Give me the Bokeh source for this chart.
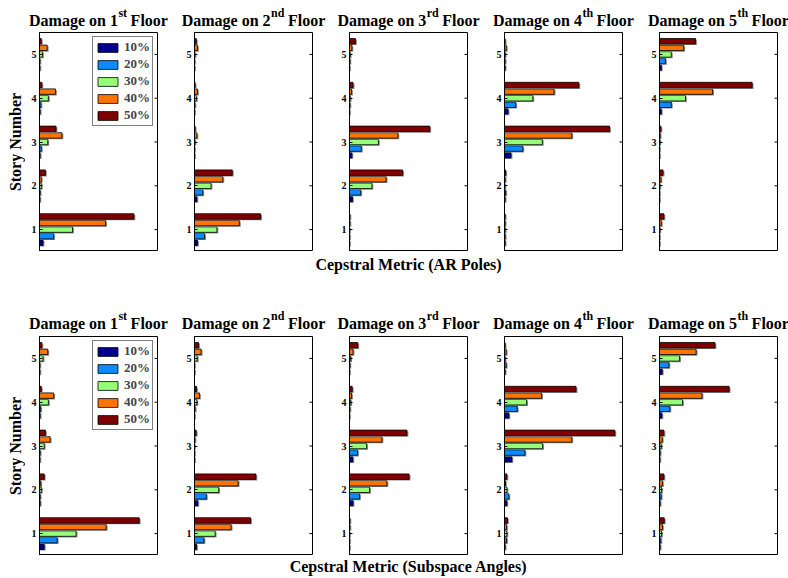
import numpy as np
from bokeh.plotting import figure
from bokeh.models import Range1d, Label, Legend, LegendItem, FixedTicker
from bokeh.layouts import row, column
from bokeh.embed import file_html
from bokeh.resources import INLINE

# ---------------- data ----------------
stories = [1, 2, 3, 4, 5]
levels = ["10%", "20%", "30%", "40%", "50%"]
colors = ["#00008C", "#0A8CFF", "#96FF78", "#FF7400", "#800000"]
floor_sup = ["st", "nd", "rd", "th", "th"]

# Cepstral Metric (AR Poles): per damage floor, one list per damage level (stories 1..5)
ar_floor1 = [[0.03, 0.003, 0.005, 0.005, 0.003],
             [0.12, 0.005, 0.015, 0.012, 0.003],
             [0.28, 0.015, 0.07, 0.075, 0.025],
             [0.56, 0.015, 0.19, 0.135, 0.065],
             [0.80, 0.05, 0.14, 0.02, 0.015]]
ar_floor2 = [[0.025, 0.02, 0.0, 0.0, 0.0],
             [0.085, 0.07, 0.0, 0.003, 0.0],
             [0.19, 0.14, 0.003, 0.015, 0.003],
             [0.38, 0.24, 0.02, 0.025, 0.025],
             [0.56, 0.32, 0.005, 0.005, 0.015]]
ar_floor3 = [[0.0, 0.025, 0.02, 0.0, 0.0],
             [0.0, 0.095, 0.10, 0.003, 0.003],
             [0.0, 0.19, 0.245, 0.005, 0.005],
             [0.003, 0.31, 0.41, 0.017, 0.02],
             [0.003, 0.45, 0.68, 0.03, 0.05]]
ar_floor4 = [[0.005, 0.005, 0.055, 0.03, 0.005],
             [0.005, 0.01, 0.155, 0.095, 0.005],
             [0.005, 0.003, 0.32, 0.24, 0.005],
             [0.005, 0.005, 0.57, 0.42, 0.015],
             [0.005, 0.01, 0.89, 0.63, 0.005]]
ar_floor5 = [[0.0, 0.0, 0.0, 0.015, 0.015],
             [0.0, 0.0, 0.0, 0.10, 0.05],
             [0.003, 0.003, 0.003, 0.22, 0.10],
             [0.015, 0.012, 0.005, 0.45, 0.205],
             [0.037, 0.03, 0.012, 0.785, 0.305]]

# Cepstral Metric (Subspace Angles)
sa_floor1 = [[0.04, 0.005, 0.003, 0.005, 0.003],
             [0.15, 0.005, 0.005, 0.01, 0.003],
             [0.31, 0.015, 0.04, 0.075, 0.03],
             [0.565, 0.01, 0.09, 0.12, 0.07],
             [0.845, 0.04, 0.05, 0.015, 0.02]]
sa_floor2 = [[0.017, 0.028, 0.0, 0.0, 0.0],
             [0.08, 0.10, 0.0, 0.005, 0.0],
             [0.175, 0.205, 0.0, 0.02, 0.023],
             [0.31, 0.37, 0.003, 0.042, 0.056],
             [0.475, 0.52, 0.014, 0.017, 0.034]]
sa_floor3 = [[0.0, 0.03, 0.028, 0.0, 0.0],
             [0.0, 0.085, 0.068, 0.003, 0.003],
             [0.0, 0.17, 0.145, 0.01, 0.01],
             [0.003, 0.317, 0.275, 0.017, 0.03],
             [0.003, 0.505, 0.487, 0.023, 0.07]]
sa_floor4 = [[0.005, 0.02, 0.062, 0.037, 0.005],
             [0.017, 0.037, 0.173, 0.108, 0.014],
             [0.02, 0.02, 0.323, 0.187, 0.005],
             [0.017, 0.008, 0.57, 0.314, 0.014],
             [0.025, 0.02, 0.935, 0.606, 0.005]]
sa_floor5 = [[0.005, 0.005, 0.003, 0.02, 0.023],
             [0.011, 0.014, 0.005, 0.088, 0.08],
             [0.017, 0.017, 0.014, 0.195, 0.17],
             [0.025, 0.025, 0.023, 0.36, 0.31],
             [0.04, 0.037, 0.037, 0.59, 0.47]]

ar_panels = [ar_floor1, ar_floor2, ar_floor3, ar_floor4, ar_floor5]
sa_panels = [sa_floor1, sa_floor2, sa_floor3, sa_floor4, sa_floor5]
row_labels = ["Cepstral Metric (AR Poles)", "Cepstral Metric (Subspace Angles)"]
y_label = "Story Number"

# ---------------- style / layout ----------------
FONT = "Liberation Serif"
TOTAL_W = 788
FW, FH = 118, 219
STRIP_W = 25          # left strip holding "Story Number"
BL, BR = 14, 23       # panel borders (left / right)
LAST_R = TOTAL_W - (STRIP_W + 4 * (BL + FW + BR) + BL + FW)
offsets = [-0.3, -0.15, 0.0, 0.15, 0.3]
BAR_H = 0.125
TICK_PX = 3

frame_centers = [STRIP_W + k * (BL + FW + BR) + BL + FW / 2.0 for k in range(5)]

# Times-Bold advance widths (per 1000 em) used to place the superscripts
TB = {'D': 722, 'a': 500, 'm': 833, 'g': 500, 'e': 444, ' ': 250, 'o': 500, 'n': 556,
      'F': 611, 'l': 278, 'r': 444, 's': 389, 't': 333, 'd': 556, 'h': 556}
for dch in "0123456789":
    TB[dch] = 500


def tw(s, size):
    return sum(TB.get(c, 500) for c in s) * size / 1000.0


def blank(width, height):
    s = figure(frame_width=width, frame_height=height, x_range=Range1d(0, width),
               y_range=Range1d(0, height), x_axis_location=None, y_axis_location=None,
               toolbar_location=None, output_backend="svg", title=None,
               min_border=0, min_border_left=0, min_border_right=0,
               min_border_top=0, min_border_bottom=0)
    s.grid.visible = False
    s.outline_line_color = None
    s.border_fill_color = "white"
    s.background_fill_color = "white"
    return s


def title_strip(height, middle_from_bottom):
    s = blank(TOTAL_W, height)
    for k in range(5):
        main = "Damage on %d" % (k + 1)
        sup = floor_sup[k]
        tail = "Floor"
        wm, ws, wsp, wt = tw(main, 16), tw(sup, 12), tw(" ", 16), tw(tail, 16)
        start = frame_centers[k] - (wm + ws + wsp + wt) / 2.0
        common = dict(y=middle_from_bottom, text_font=FONT, text_font_style="bold",
                      text_color="black", text_baseline="middle", text_align="left")
        s.add_layout(Label(text=main, x=start, text_font_size="16px", **common))
        s.add_layout(Label(text=sup, x=start + wm + 0.5, y_offset=8,
                           text_font_size="12px", **common))
        s.add_layout(Label(text=tail, x=start + wm + ws + wsp, text_font_size="16px", **common))
    return s


def xlabel_strip(text, height, middle_from_top):
    s = blank(TOTAL_W, height)
    s.add_layout(Label(text=text, x=frame_centers[2], y=height - middle_from_top,
                       text_align="center", text_baseline="middle", text_font=FONT,
                       text_font_style="bold", text_font_size="16px", text_color="black"))
    return s


def ylabel_strip():
    s = blank(STRIP_W, FH)
    s.add_layout(Label(text=y_label, x=15, y=FH / 2.0, angle=np.pi / 2,
                       text_align="center", text_baseline="middle", text_font=FONT,
                       text_font_style="bold", text_font_size="16px", text_color="black"))
    return s


def make_panel(vals, k):
    right = LAST_R if k == 4 else BR
    p = figure(frame_width=FW, frame_height=FH, x_range=Range1d(0, 1), y_range=Range1d(0.5, 5.5),
               x_axis_location=None, y_axis_location="left", toolbar_location=None,
               output_backend="svg", title=None,
               min_border_left=BL, min_border_right=right,
               min_border_top=0, min_border_bottom=0)
    p.grid.visible = False
    p.outline_line_color = "black"
    p.outline_line_width = 1
    p.background_fill_color = "white"
    p.border_fill_color = "white"

    ax = p.yaxis[0]
    ax.ticker = FixedTicker(ticks=stories)
    ax.major_tick_in = TICK_PX
    ax.major_tick_out = 0
    ax.minor_tick_line_color = None
    ax.major_label_standoff = 3
    ax.major_label_text_font = FONT
    ax.major_label_text_font_style = "bold"
    ax.major_label_text_font_size = "10px"
    ax.major_label_text_color = "black"
    ax.axis_line_color = "black"

    # inward tick marks on the right edge of the box (mirrored axis ticks)
    p.segment(x0=[1.0] * len(stories), x1=[1.0 - TICK_PX / FW] * len(stories),
              y0=stories, y1=stories, line_color="black", line_width=1)

    items = []
    for j in range(5):
        y = np.array(stories, dtype=float) + offsets[j]
        v = np.array(vals[j], dtype=float)
        p.hbar(y=y - 0.025, left=0, right=v + 0.012, height=BAR_H,
               fill_color="#8a8a8a", line_color=None)
        r = p.hbar(y=y, left=0, right=v, height=BAR_H, fill_color=colors[j],
                   line_color="black", line_width=0.8)
        items.append(LegendItem(label=levels[j], renderers=[r]))

    if k == 0:
        leg = Legend(items=items, location="top_right", margin=4, padding=2, spacing=1,
                     glyph_width=25, glyph_height=11, label_height=11, label_standoff=4,
                     label_text_font=FONT, label_text_font_style="bold",
                     label_text_font_size="13px", border_line_color="black",
                     border_line_width=1, background_fill_alpha=1.0)
        p.add_layout(leg)
    return p


title1 = title_strip(32, 12)
row1 = row(ylabel_strip(), *[make_panel(ar_panels[k], k) for k in range(5)])
xlab1 = xlabel_strip(row_labels[0], 25, 13)
title2 = title_strip(60, 13)
row2 = row(ylabel_strip(), *[make_panel(sa_panels[k], k) for k in range(5)])
xlab2 = xlabel_strip(row_labels[1], 23, 11)

layout = column(title1, row1, xlab1, title2, row2, xlab2)

open("out.html", "w").write(file_html(layout, INLINE))
